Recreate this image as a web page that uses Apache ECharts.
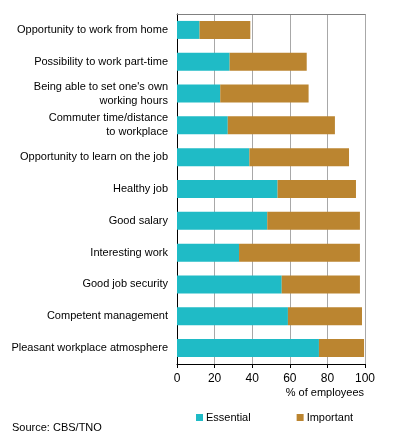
<!DOCTYPE html>
<html>
<head>
<meta charset="utf-8">
<script src="https://cdn.jsdelivr.net/npm/echarts@6/dist/echarts.min.js"></script>
<style>
  html, body { margin: 0; padding: 0; background: #fff; }
  #chart { width: 396px; height: 441px; }
</style>
</head>
<body>
<div id="chart"></div>
<script>
// job aspects, top to bottom
const categories = [
  'Opportunity to work from home',
  'Possibility to work part-time',
  "Being able to set one's own\nworking hours",
  'Commuter time/distance\nto workplace',
  'Opportunity to learn on the job',
  'Healthy job',
  'Good salary',
  'Interesting work',
  'Good job security',
  'Competent management',
  'Pleasant workplace atmosphere'
]
const essential = [12, 28, 23, 27, 38.5, 53.5, 48, 33, 55.7, 59, 75.5]
const important = [27, 41, 47, 57, 53, 41.7, 49.3, 64.3, 41.6, 39.4, 24]
const xTicks = [0, 20, 40, 60, 80, 100]

const font = 'Liberation Sans, Arial, sans-serif'

const chart = echarts.init(document.getElementById('chart'), null, { renderer: 'canvas' })

const option = {
  backgroundColor: '#fff',
  animation: false,
  textStyle: { fontFamily: font },
  grid: { left: 177, right: 31, top: 14, bottom: 77 },
  legend: {
    left: 191,
    top: 407,
    icon: 'rect',
    itemWidth: 7,
    itemHeight: 7,
    itemGap: 46,
    textStyle: { fontSize: 11, color: '#000', fontFamily: font, padding: [0, 0, 0, -2] },
    data: ['Essential', 'Important']
  },
  graphic: [
    {
      type: 'text',
      left: 12,
      top: 422,
      style: { text: 'Source: CBS/TNO', fontSize: 11, fill: '#000', fontFamily: font }
    }
  ],
  xAxis: [
    {
      type: 'value',
      min: xTicks[0],
      max: xTicks[xTicks.length - 1],
      interval: 20,
      name: '% of employees',
      nameLocation: 'end',
      nameGap: -1,
      nameTextStyle: {
        fontSize: 11,
        color: '#000',
        align: 'right',
        verticalAlign: 'top',
        padding: [23, 0, 0, 0],
        fontFamily: font
      },
      axisLine: { show: true, lineStyle: { color: '#000', width: 1 } },
      axisTick: { show: true, length: 4, lineStyle: { color: '#000' } },
      axisLabel: { fontSize: 12, color: '#000', margin: 9, fontFamily: font },
      splitLine: { show: true, lineStyle: { color: '#a8a8a8', width: 1 } }
    },
    {
      type: 'value',
      position: 'top',
      min: 0,
      max: 100,
      axisLine: { show: true, lineStyle: { color: '#808080', width: 1 } },
      axisTick: { show: false },
      axisLabel: { show: false },
      splitLine: { show: false }
    }
  ],
  yAxis: {
    type: 'category',
    inverse: true,
    data: categories,
    axisLine: { show: true, lineStyle: { color: '#000', width: 1 } },
    axisTick: { show: false },
    axisLabel: {
      fontSize: 11,
      color: '#000',
      margin: 9,
      lineHeight: 14,
      fontFamily: font
    }
  },
  series: [
    {
      name: 'Essential',
      type: 'bar',
      stack: 'total',
      barWidth: 18,
      itemStyle: { color: '#1fbbc6' },
      data: essential
    },
    {
      name: 'Important',
      type: 'bar',
      stack: 'total',
      barWidth: 18,
      itemStyle: { color: '#bb8530' },
      data: important
    }
  ]
}

chart.setOption(option)
</script>
</body>
</html>
